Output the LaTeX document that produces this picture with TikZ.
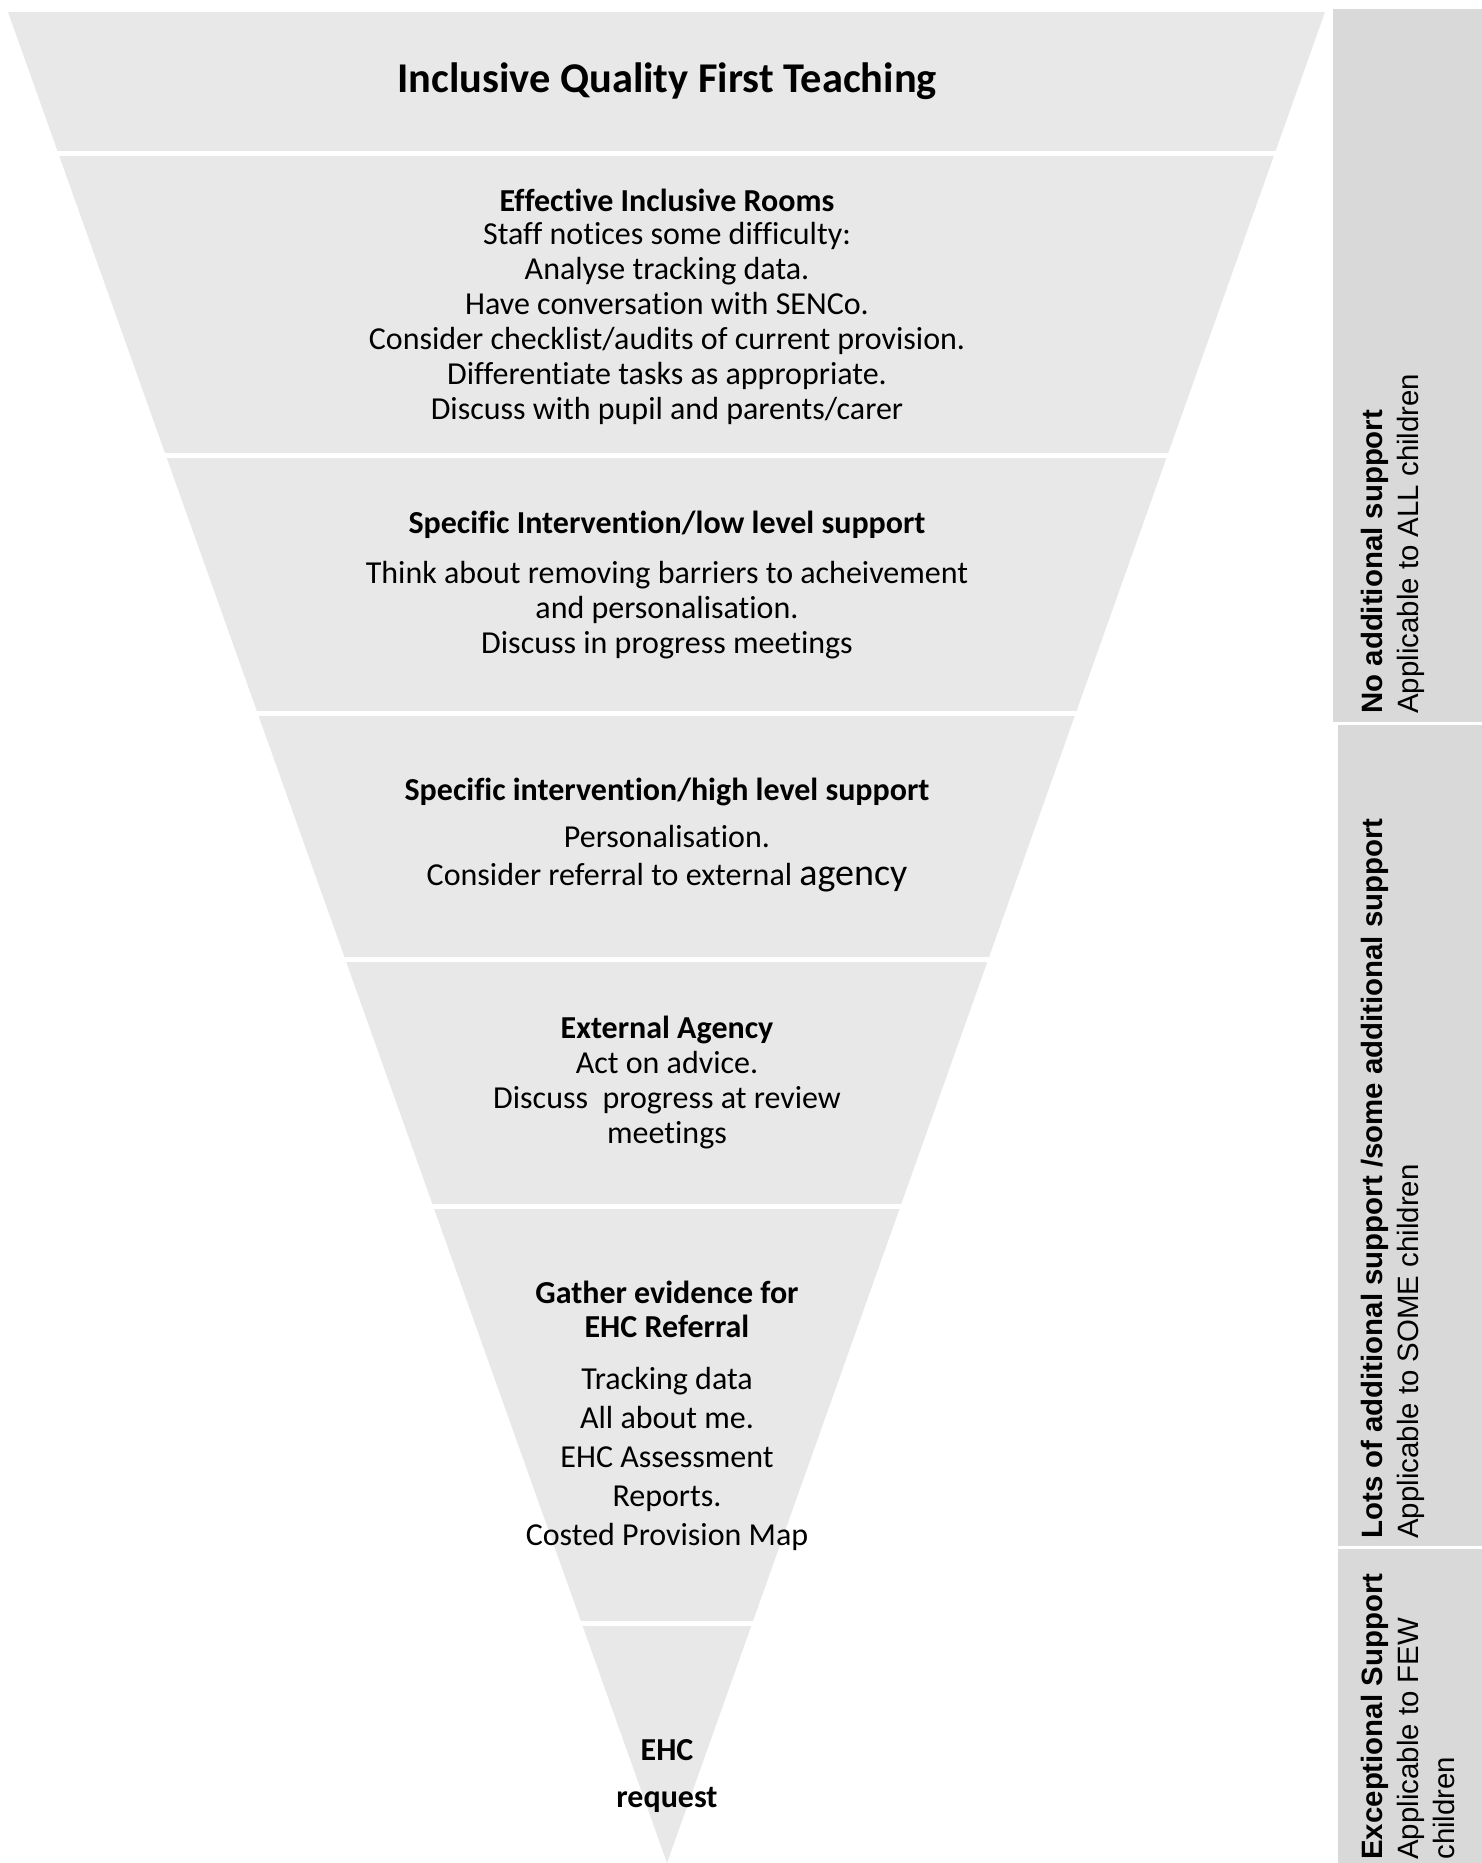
\documentclass[tikz,border=0pt]{standalone}
\usepackage{fontspec}
\setmainfont{Carlito}[Ligatures=NoCommon]
\newfontfamily\sidefont{Liberation Sans}
\usetikzlibrary{positioning}
\definecolor{funnelgray}{HTML}{E8E8E8}
\definecolor{bargray}{HTML}{D9D9D9}

\begin{document}
\begin{tikzpicture}[x=0.5pt, y=-0.5pt,
    head/.style={font=\bfseries\fontsize{16}{17.5}\selectfont, align=center, inner sep=0pt},
    body/.style={font=\fontsize{16}{17.5}\selectfont, align=center, inner sep=0pt},
    side/.style={font=\sidefont\fontsize{14.7}{18}\selectfont, align=left, rotate=90, anchor=north west, inner sep=0pt},
    gap/.style={draw=white, line width=2.5pt}]
    \useasboundingbox (0,0) rectangle (1482,1863);
    % Funnel
    \fill[funnelgray] (8,12) -- (1325,12) -- (667,1863) -- cycle;
    \foreach \y in {153.5,455,713.5,959.5,1206.5,1623.5}
        \draw[gap] (0,\y) -- (1330,\y);
    % Side bars
    \fill[bargray] (1333,9) rectangle (1482,722);
    \fill[bargray] (1338,725) rectangle (1482,1546);
    \fill[bargray] (1338,1549) rectangle (1482,1863);
    % Nodes
    \node[head, font=\bfseries\fontsize{21.2}{25}\selectfont] (title) at (667,81) {Inclusive Quality First Teaching};
    \node[head] (roomsHead) at (667,200) {Effective Inclusive Rooms};
    \node[body] (roomsText) at (667,323) {Staff notices some difficulty:\\Analyse tracking data.\\Have conversation with SENCo.\\Consider checklist/audits of current provision.\\Differentiate tasks as appropriate.\\Discuss with pupil and parents/carer};
    \node[head] (lowHead) at (667,525) {Specific Intervention/low level support};
    \node[body] (lowText) at (667,610) {Think about removing barriers to acheivement\\and personalisation.\\Discuss in progress meetings};
    \node[head] (highHead) at (667,792) {Specific intervention/high level support};
    \node[body, font=\fontsize{16}{19}\selectfont] (highText) at (667,859) {Personalisation.\\Consider referral to external {\fontsize{19}{19}\selectfont agency}};
    \node[head] (agencyHead) at (667,1030) {External Agency};
    \node[body] (agencyText) at (667,1100) {Act on advice.\\Discuss\ \ progress at review\\meetings};
    \node[head, font=\bfseries\fontsize{16}{17}\selectfont] (ehcHead) at (667,1309) {Gather evidence for\\EHC Referral};
    \node[body, font=\fontsize{16}{19.5}\selectfont] (ehcText) at (667,1459) {Tracking data\\All about me.\\EHC Assessment\\Reports.\\Costed Provision Map};
    \node[head, font=\bfseries\fontsize{16}{23.5}\selectfont] (request) at (667,1776) {EHC\\request};
    % Side labels
    \node[side] (allKids) at (1361,714) {\textbf{No additional support}\\Applicable to ALL children};
    \node[side] (someKids) at (1361,1539) {\textbf{Lots of additional support /some additional support}\\Applicable to SOME children};
    \node[side] (fewKids) at (1361,1860) {\textbf{Exceptional Support}\\Applicable to FEW\\children};
\end{tikzpicture}
\end{document}
